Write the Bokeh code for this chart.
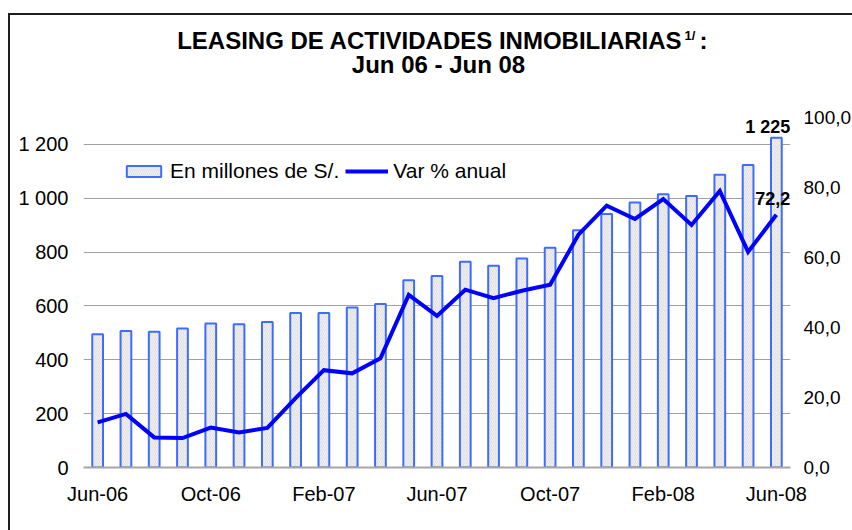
from bokeh.plotting import figure
from bokeh.models import (ColumnDataSource, Range1d, LinearAxis, FixedTicker,
                          Legend, LegendItem, Label)
from bokeh.embed import file_html
from bokeh.resources import INLINE

# ---------------- data ----------------
months = ["Jun-06", "Jul-06", "Ago-06", "Sep-06", "Oct-06", "Nov-06", "Dic-06",
          "Ene-07", "Feb-07", "Mar-07", "Abr-07", "May-07", "Jun-07", "Jul-07",
          "Ago-07", "Sep-07", "Oct-07", "Nov-07", "Dic-07", "Ene-08", "Feb-08",
          "Mar-08", "Abr-08", "May-08", "Jun-08"]
leasing = [495, 507, 504, 516, 535, 532, 540, 574, 574, 594, 607, 695, 711,
           764, 749, 776, 816, 881, 941, 984, 1015, 1008, 1087, 1123, 1225]
var_anual = [12.9, 15.3, 8.6, 8.4, 11.4, 10.0, 11.3, 19.8, 27.8, 26.9, 31.2,
             49.3, 43.3, 50.8, 48.4, 50.5, 52.2, 66.5, 74.8, 71.0, 76.7, 69.3,
             79.0, 61.6, 72.2]
x_tick_idx = [0, 4, 8, 12, 16, 20, 24]
left_ticks = [0, 200, 400, 600, 800, 1000, 1200]
left_tick_labels = ["0", "200", "400", "600", "800", "1 000", "1 200"]
right_ticks = [0, 20, 40, 60, 80, 100]
right_tick_labels = ["0,0", "20,0", "40,0", "60,0", "80,0", "100,0"]
title_line1 = "LEASING DE ACTIVIDADES INMOBILIARIAS"
title_sup = "1/"
title_line2 = "Jun 06 - Jun 08"
label_last_bar = "1 225"
label_last_var = "72,2"
legend_bar = "En millones de S/."
legend_line = "Var % anual"

FONT = "Liberation Sans"

xs = list(range(len(months)))
src = ColumnDataSource(dict(x=xs, leasing=leasing, var=var_anual))

# frame extends up to hold the title (axes have no lines, so it is invisible)
p = figure(frame_width=707, frame_height=447,
           min_border_left=83, min_border_right=62,
           min_border_top=20, min_border_bottom=63,
           x_range=Range1d(-0.5, len(months) - 0.5),
           y_range=Range1d(0, 1660),
           output_backend="svg", toolbar_location=None,
           background_fill_color=None, border_fill_color=None)
p.outline_line_color = None
p.styles = {"background": "linear-gradient(#1e1e1e,#1e1e1e) 8px 13px / 100% 2px no-repeat, "
                          "linear-gradient(#1e1e1e,#1e1e1e) 8px 13px / 2px 100% no-repeat, white"}

p.extra_y_ranges = {"right": Range1d(0, 127.7)}

# bars
bars = p.vbar(x="x", top="leasing", width=0.38, source=src,
              fill_color="#eeeeee", line_color="#3f6cff", line_width=2,
              hatch_pattern="right_diagonal_line", hatch_color="#d9d9d9",
              hatch_scale=4, hatch_weight=0.6)
# line
line = p.line(x="x", y="var", source=src, y_range_name="right",
              line_color="#0000ff", line_width=4, line_join="miter")

# axes
p.xaxis.ticker = FixedTicker(ticks=x_tick_idx)
p.xaxis.major_label_overrides = {i: months[i] for i in x_tick_idx}
p.xaxis.axis_line_color = "#a6a6a6"
p.xaxis.axis_line_width = 2
p.xaxis.major_tick_line_color = None
p.xaxis.minor_tick_line_color = None
p.xaxis.major_tick_out = 0
p.xaxis.major_tick_in = 0
p.xaxis.major_label_text_font = FONT
p.xaxis.major_label_text_font_size = "20px"
p.xaxis.major_label_text_color = "black"
p.xaxis.major_label_standoff = 15

p.yaxis.ticker = FixedTicker(ticks=left_ticks)
p.yaxis.major_label_overrides = dict(zip(left_ticks, left_tick_labels))
p.yaxis.axis_line_color = None
p.yaxis.major_tick_line_color = None
p.yaxis.minor_tick_line_color = None
p.yaxis.major_tick_out = 0
p.yaxis.major_tick_in = 0
p.yaxis.major_label_text_font = FONT
p.yaxis.major_label_text_font_size = "20px"
p.yaxis.major_label_text_color = "black"
p.yaxis.major_label_standoff = 15

raxis = LinearAxis(y_range_name="right", ticker=FixedTicker(ticks=right_ticks))
raxis.major_label_overrides = dict(zip(right_ticks, right_tick_labels))
raxis.axis_line_color = None
raxis.major_tick_line_color = None
raxis.minor_tick_line_color = None
raxis.major_tick_out = 0
raxis.major_tick_in = 0
raxis.major_label_text_font = FONT
raxis.major_label_text_font_size = "19px"
raxis.major_label_text_color = "black"
raxis.major_label_standoff = 13
p.add_layout(raxis, "right")

p.xgrid.grid_line_color = None
p.ygrid.ticker = FixedTicker(ticks=left_ticks)
p.ygrid.grid_line_color = "#a0a0a0"
p.ygrid.grid_line_width = 1

# legend
legend = Legend(items=[LegendItem(label=legend_bar, renderers=[bars]),
                       LegendItem(label=legend_line, renderers=[line])],
                orientation="horizontal", location=(39, 284),
                glyph_width=43, glyph_height=14, label_standoff=5, spacing=6,
                padding=0, margin=0, border_line_color=None,
                background_fill_alpha=0,
                label_text_font=FONT, label_text_font_size="21px",
                label_text_color="black")
p.add_layout(legend, "center")

# value labels
last = len(months) - 1
p.add_layout(Label(x=last, y=leasing[last], text=label_last_bar, x_offset=14,
                   y_offset=10.5, text_align="right", text_baseline="middle",
                   text_font=FONT, text_font_style="bold",
                   text_font_size="18px", text_color="black"))
p.add_layout(Label(x=last, y=var_anual[last], y_range_name="right",
                   text=label_last_var, x_offset=14, y_offset=16,
                   text_align="right", text_baseline="middle",
                   text_font=FONT, text_font_style="bold",
                   text_font_size="18px", text_color="black"))

# title (inside the extended frame, above the gridlines)
cx = (len(months) - 1) / 2
p.add_layout(Label(x=cx, y=122.0, y_range_name="right", text=title_line1,
                   x_offset=245.5, text_align="right", text_baseline="middle",
                   text_font=FONT, text_font_style="bold",
                   text_font_size="24px", text_color="black"))
p.add_layout(Label(x=cx, y=122.0, y_range_name="right", text=title_sup,
                   x_offset=247.5, y_offset=5, text_align="left",
                   text_baseline="middle",
                   text_font=FONT, text_font_style="bold",
                   text_font_size="13px", text_color="black"))
p.add_layout(Label(x=cx, y=122.0, y_range_name="right", text=":",
                   x_offset=262.5, text_align="left", text_baseline="middle",
                   text_font=FONT, text_font_style="bold",
                   text_font_size="24px", text_color="black"))
p.add_layout(Label(x=cx, y=115.2, y_range_name="right", text=title_line2,
                   x_offset=1.5, text_align="center", text_baseline="middle",
                   text_font=FONT, text_font_style="bold",
                   text_font_size="24px", text_color="black"))

open("out.html", "w").write(file_html(p, INLINE))
